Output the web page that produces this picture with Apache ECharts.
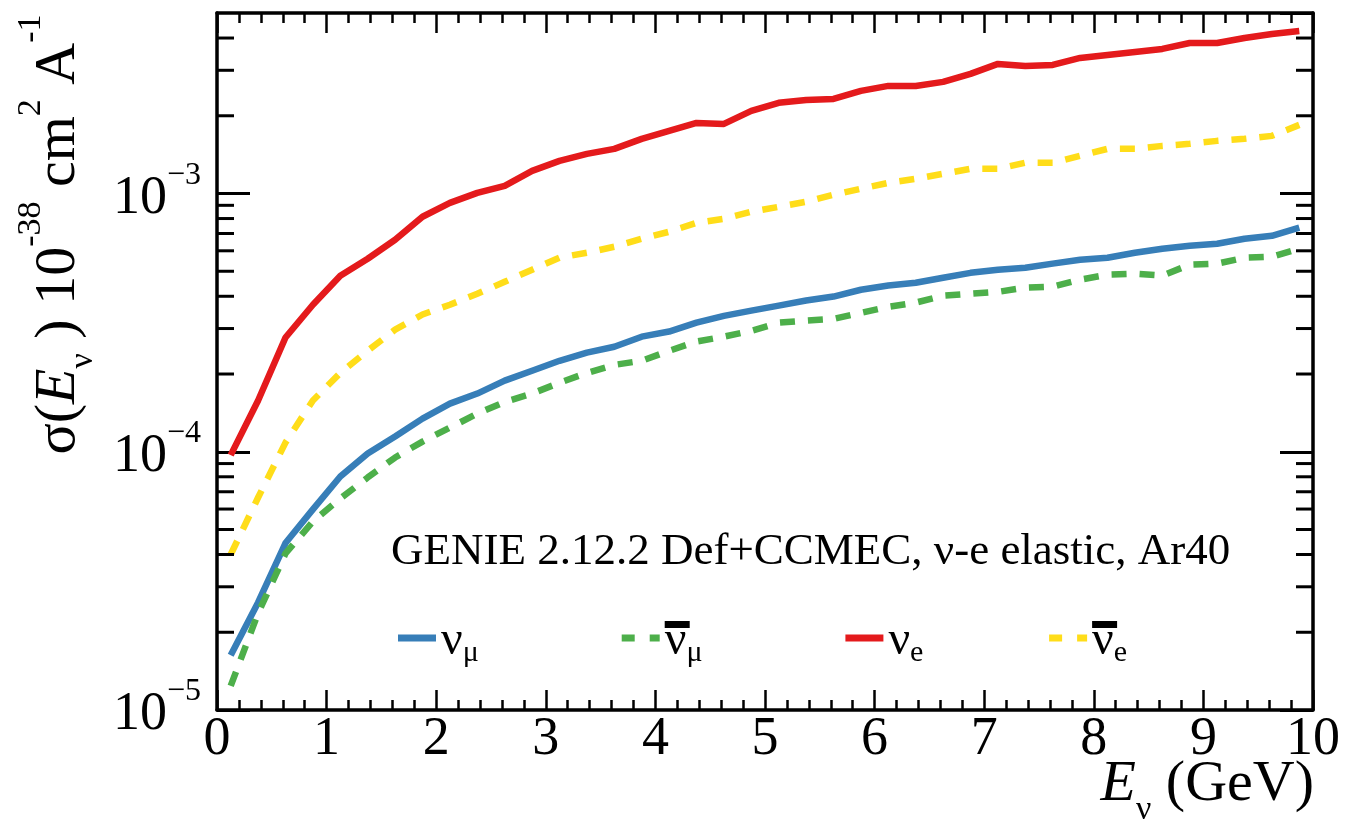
<!DOCTYPE html>
<html>
<head>
<meta charset="utf-8">
<script src="https://cdn.jsdelivr.net/npm/echarts@6/dist/echarts.min.js"></script>
<style>
html,body{margin:0;padding:0;background:#fff;}
#chart{width:1353px;height:822px;}
</style>
</head>
<body>
<div id="chart"></div>
<script>
// ---------------- data ----------------
const energies = [0.125,0.375,0.625,0.875,1.125,1.375,1.625,1.875,2.125,2.375,
  2.625,2.875,3.125,3.375,3.625,3.875,4.125,4.375,4.625,4.875,
  5.125,5.375,5.625,5.875,6.125,6.375,6.625,6.875,7.125,7.375,
  7.625,7.875,8.125,8.375,8.625,8.875,9.125,9.375,9.625,9.875];

const numu = [1.63e-5,2.61e-5,4.43e-5,5.98e-5,8.02e-5,9.84e-5,1.145e-4,1.344e-4,1.536e-4,1.68e-4,
  1.885e-4,2.06e-4,2.25e-4,2.42e-4,2.55e-4,2.79e-4,2.92e-4,3.16e-4,3.36e-4,3.52e-4,
  3.68e-4,3.85e-4,3.99e-4,4.24e-4,4.40e-4,4.51e-4,4.72e-4,4.93e-4,5.07e-4,5.16e-4,
  5.35e-4,5.54e-4,5.64e-4,5.90e-4,6.11e-4,6.28e-4,6.39e-4,6.68e-4,6.86e-4,7.37e-4];

const numubar = [1.24e-5,2.37e-5,4.04e-5,5.37e-5,6.59e-5,7.95e-5,9.50e-5,1.095e-4,1.24e-4,1.405e-4,
  1.56e-4,1.68e-4,1.85e-4,2.02e-4,2.17e-4,2.25e-4,2.46e-4,2.67e-4,2.79e-4,2.94e-4,
  3.16e-4,3.22e-4,3.27e-4,3.45e-4,3.64e-4,3.78e-4,4.02e-4,4.09e-4,4.16e-4,4.32e-4,
  4.36e-4,4.64e-4,4.85e-4,4.89e-4,4.81e-4,5.30e-4,5.35e-4,5.64e-4,5.69e-4,6.11e-4];

const nue = [9.7e-5,1.58e-4,2.77e-4,3.71e-4,4.80e-4,5.59e-4,6.62e-4,8.13e-4,9.2e-4,1.006e-3,
  1.071e-3,1.224e-3,1.338e-3,1.424e-3,1.489e-3,1.628e-3,1.748e-3,1.877e-3,1.860e-3,2.089e-3,
  2.244e-3,2.304e-3,2.325e-3,2.496e-3,2.610e-3,2.610e-3,2.705e-3,2.905e-3,3.176e-3,3.119e-3,
  3.147e-3,3.350e-3,3.441e-3,3.534e-3,3.630e-3,3.828e-3,3.828e-3,4.003e-3,4.148e-3,4.261e-3];

const nuebar = [4.00e-5,6.65e-5,1.085e-4,1.58e-4,2.02e-4,2.46e-4,2.97e-4,3.40e-4,3.71e-4,4.09e-4,
  4.55e-4,5.07e-4,5.64e-4,5.90e-4,6.22e-4,6.68e-4,7.11e-4,7.70e-4,7.98e-4,8.50e-4,
  8.88e-4,9.29e-4,9.89e-4,1.043e-3,1.100e-3,1.140e-3,1.192e-3,1.246e-3,1.246e-3,1.315e-3,
  1.315e-3,1.399e-3,1.489e-3,1.489e-3,1.529e-3,1.557e-3,1.599e-3,1.628e-3,1.672e-3,1.844e-3];

const seriesNames = ['numu', 'numubar', 'nue', 'nuebar'];
// first line: overline bar (or empty placeholder); second line: ν with subscript
const legendLabels = {
  numu: '{nb| }\n{n|ν}{sm|μ}',
  numubar: '{bar| }\n{n|ν}{sm|μ}',
  nue: '{nb| }\n{n|ν}{se|e}',
  nuebar: '{bar| }\n{n|ν}{se|e}'
};
const yTickExponentLabels = {'-5': '−5', '-4': '−4', '-3': '−3'};
const xTickLabels = ['0','1','2','3','4','5','6','7','8','9','10'];
const annotationText = 'GENIE 2.12.2 Def+CCMEC, ν-e elastic, Ar40';
const yTitle = '{b|σ(}{i|E}{sub|ν}{b| ) 10}{sup|-38}{b| cm}{sup|2}{b| A}{sup|-1}';
const xTitle = '{i|E}{sub|ν}{b| (GeV)}';

const X_MIN = 0, X_MAX = 10;
const Y_MIN = 1e-5, Y_MAX = 5e-3;
const yMinorMantissas = [2,3,4,5,6,7,8,9];
const yDecades = [1e-5, 1e-4, 1e-3];
const yMinorTicks = [];
yDecades.forEach(d => yMinorMantissas.forEach(m => {
  const v = m * d;
  if (v < Y_MAX * 0.999) yMinorTicks.push(v);
}));

// ---------------- style ----------------
const FONT = "'Liberation Serif','Times New Roman',serif";
const colors = { numu: '#377EB8', numubar: '#4DAF4A', nue: '#E41A1C', nuebar: '#FFDD19' };
const dashed = { numu: false, numubar: true, nue: false, nuebar: true };
const dashIcon = 'path://M0,0H13V7H0ZM28,0H38V7H28Z';

function pairs(arr) { return energies.map((e, i) => [e, arr[i]]); }
const seriesData = { numu: pairs(numu), numubar: pairs(numubar), nue: pairs(nue), nuebar: pairs(nuebar) };

function xAxisDef(pos, showLabels) {
  return {
    type: 'value', position: pos, min: X_MIN, max: X_MAX, interval: 1,
    axisLine: { show: true, onZero: false, lineStyle: { color: '#000', width: 3.5 } },
    axisTick: { show: true, inside: true, length: 20, lineStyle: { color: '#000', width: 2.5 } },
    minorTick: { show: true, splitNumber: 5, length: 10, lineStyle: { color: '#000', width: 2.5 } },
    splitLine: { show: false }, minorSplitLine: { show: false },
    axisLabel: {
      show: showLabels, fontSize: 54, fontFamily: FONT, color: '#000', margin: 3,
      formatter: v => xTickLabels[Math.round(v)]
    }
  };
}
function yAxisDef(pos, showLabels) {
  return {
    type: 'log', logBase: 10, position: pos, min: Y_MIN, max: Y_MAX,
    axisLine: { show: true, onZero: false, lineStyle: { color: '#000', width: 3.5 } },
    axisTick: { show: true, inside: true, length: 33, lineStyle: { color: '#000', width: 3 } },
    splitLine: { show: false },
    axisLabel: {
      show: showLabels, margin: 16, showMaxLabel: false,
      formatter: v => '{b|10}{s|' + yTickExponentLabels[String(Math.round(Math.log10(v)))] + '}',
      rich: {
        b: { fontSize: 54, fontFamily: FONT, color: '#000', height: 54, lineHeight: 64, padding: [10,0,0,0] },
        s: { fontSize: 32, fontFamily: FONT, color: '#000', height: 28, lineHeight: 28, verticalAlign: 'top' }
      }
    }
  };
}

const lineSeries = seriesNames.map(name => ({
  name: name, type: 'line', data: seriesData[name],
  xAxisIndex: 0, yAxisIndex: 0,
  showSymbol: false, symbol: 'none', smooth: false, silent: true,
  itemStyle: { color: colors[name] },
  lineStyle: { color: colors[name], width: 6.5, type: dashed[name] ? [15, 13] : 'solid', cap: 'butt', join: 'round' },
  z: 3
}));

const minorTickSeries = {
  name: 'yMinorTicks', type: 'custom', xAxisIndex: 0, yAxisIndex: 0, silent: true, z: 5,
  data: yMinorTicks.map(v => [X_MIN, v]),
  renderItem: function (params, api) {
    const v = api.value(1);
    const pL = api.coord([X_MIN, v]);
    const pR = api.coord([X_MAX, v]);
    const st = { stroke: '#000', lineWidth: 3 };
    return { type: 'group', children: [
      { type: 'line', shape: { x1: pL[0], y1: pL[1], x2: pL[0] + 17, y2: pL[1] }, style: st },
      { type: 'line', shape: { x1: pR[0], y1: pR[1], x2: pR[0] - 17, y2: pR[1] }, style: st }
    ]};
  }
};

function titleRich(fs, ss) {
  return {
    b: { fontSize: fs, fontFamily: FONT, color: '#000', height: fs, lineHeight: fs + 10, padding: [10,0,0,0] },
    i: { fontSize: fs, fontFamily: FONT, fontStyle: 'italic', color: '#000', height: fs, lineHeight: fs + 10, padding: [10,0,0,0] },
    sub: { fontSize: ss, fontFamily: FONT, color: '#000', height: 8, lineHeight: 8, verticalAlign: 'bottom' },
    sup: { fontSize: ss, fontFamily: FONT, color: '#000', height: 24, lineHeight: 24, verticalAlign: 'top' }
  };
}

const option = {
  animation: false,
  backgroundColor: '#fff',
  grid: { left: 217, right: 40, top: 13, bottom: 112, containLabel: false, outerBoundsMode: 'none' },
  xAxis: [xAxisDef('bottom', true), xAxisDef('top', false)],
  yAxis: [yAxisDef('left', true), yAxisDef('right', false)],
  legend: {
    left: 398, top: 617, padding: 0, orient: 'horizontal',
    itemWidth: 38, itemHeight: 7, itemGap: 41, selectedMode: false,
    itemStyle: { borderWidth: 0 },
    data: seriesNames.map(n => ({ name: n, icon: dashed[n] ? dashIcon : 'rect' })),
    formatter: name => legendLabels[name],
    textStyle: {
      color: '#000',
      rich: {
        bar: { fontSize: 6, width: 25, height: 7, lineHeight: 7, backgroundColor: '#000', color: 'rgba(0,0,0,0)' },
        nb: { fontSize: 6, width: 25, height: 7, lineHeight: 7, color: 'rgba(0,0,0,0)' },
        n: { fontSize: 48, fontFamily: FONT, color: '#000', height: 26, lineHeight: 27, verticalAlign: 'top' },
        sm: { fontSize: 30, fontFamily: FONT, color: '#000', height: 51, lineHeight: 27, verticalAlign: 'top', width: 118 },
        se: { fontSize: 30, fontFamily: FONT, color: '#000', height: 51, lineHeight: 27, verticalAlign: 'top', width: 98 }
      }
    }
  },
  graphic: [
    { type: 'text', x: 391, y: 552, silent: true,
      style: { text: annotationText, fontSize: 45, fontFamily: FONT, fill: '#000', align: 'left', verticalAlign: 'middle' } },
    { type: 'text', x: 53.5, y: 234.5, rotation: Math.PI / 2, silent: true,
      style: { text: yTitle, rich: titleRich(58, 34), fill: '#000', align: 'center', verticalAlign: 'middle' } },
    { type: 'text', x: 1314, y: 780, silent: true,
      style: { text: xTitle, rich: titleRich(58, 34), fill: '#000', align: 'right', verticalAlign: 'middle' } }
  ],
  series: lineSeries.concat([minorTickSeries])
};

const chart = echarts.init(document.getElementById('chart'), null, { renderer: 'canvas' });
chart.setOption(option);
</script>
</body>
</html>
